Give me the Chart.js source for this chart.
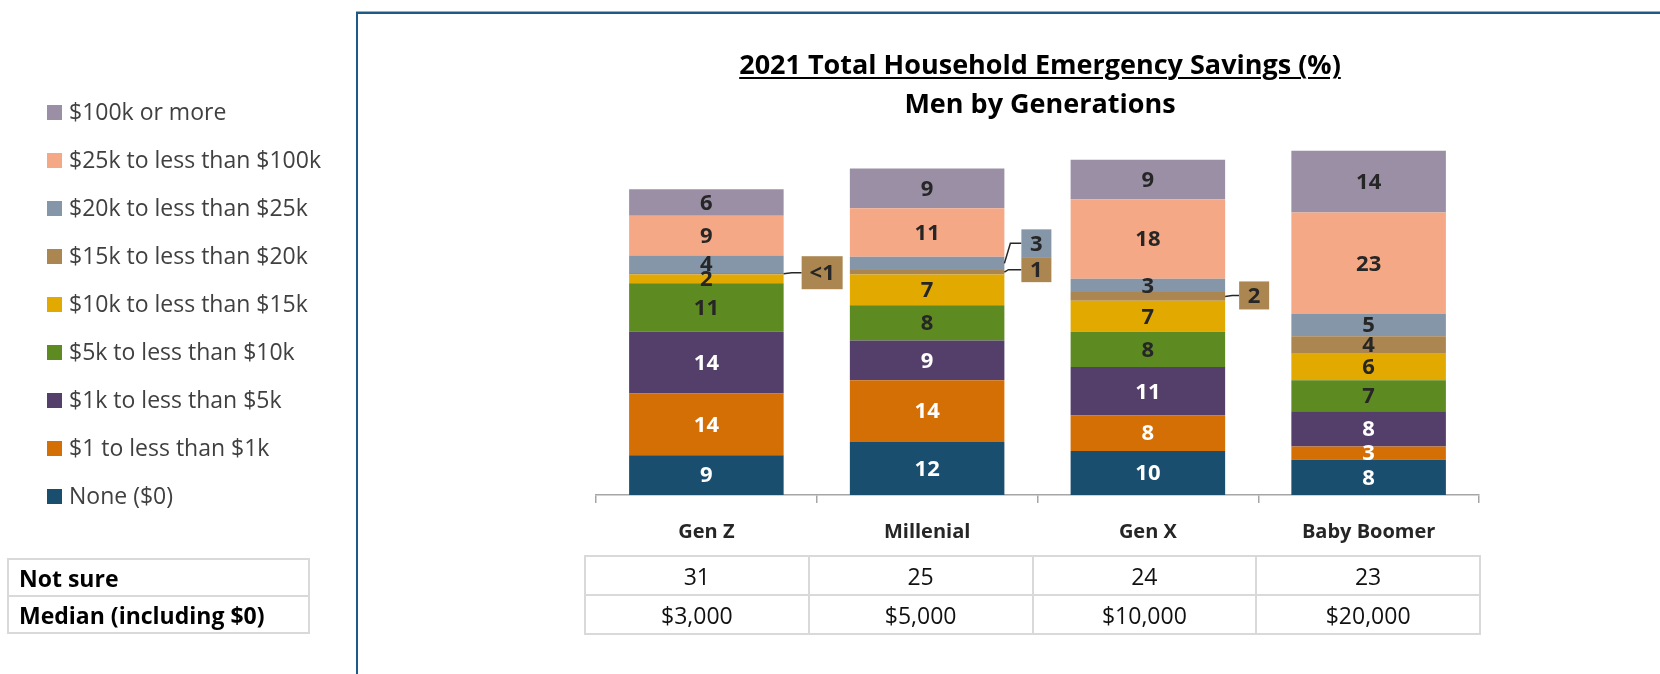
<!DOCTYPE html>
<html lang="en">
<head>
<meta charset="UTF-8">
<title>2021 Total Household Emergency Savings - Men by Generations</title>
<script src="https://cdn.jsdelivr.net/npm/chart.js"></script>
<style>
  body { margin: 0; width: 1660px; height: 674px; position: relative; overflow: hidden; background: #fff; font-family: "Open Sans", sans-serif; }
  #chart { position: absolute; left: 0; top: 0; }
  .frameTop { position: absolute; left: 356px; top: 11px; width: 1304px; height: 1px; background: #8fb1cc; }
  .frameTop2 { position: absolute; left: 356px; top: 12px; width: 1304px; height: 2px; background: #1d5a87; }
  .frameLeft { position: absolute; left: 356px; top: 12px; width: 2px; height: 662px; background: #1d5a87; }
  #title { position: absolute; left: 640px; width: 800px; top: 44px; text-align: center; font-weight: bold; font-size: 27px; line-height: 39px; color: #000; }
  #title u { text-decoration-thickness: 2px; text-underline-offset: 3px; }
  #legend { position: absolute; left: 47px; top: 100px; }
  .item { position: absolute; left: 0; height: 24px; white-space: nowrap; font-size: 23px; line-height: 24px; color: #404040; }
  .item span.sw { position: absolute; left: 0; top: 5px; width: 15px; height: 15px; }
  .item span.tx { position: absolute; left: 22px; top: -1px; }
  table { position: absolute; border-collapse: collapse; }
  td { border: 2px solid #d9d9d9; padding: 0; }
  #sideTable { left: 7px; top: 558px; width: 303px; }
  #sideTable td { height: 35px; font-weight: bold; font-size: 23px; color: #000; padding-left: 10px; }
  #valTable { left: 584px; top: 555px; width: 897px; table-layout: fixed; }
  #valTable td { height: 37px; font-size: 23px; color: #111; text-align: center; }
</style>
</head>
<body>
<canvas id="chart" width="1660" height="674"></canvas>
<div class="frameTop"></div><div class="frameTop2"></div><div class="frameLeft"></div>
<div id="title"><u>2021 Total Household Emergency Savings (%)</u><br>Men by Generations</div>
<div id="legend"></div>
<table id="sideTable"><tr><td>Not sure</td></tr><tr><td>Median (including $0)</td></tr></table>
<table id="valTable"><tr id="rowNotSure"></tr><tr id="rowMedian"></tr></table>
<script>
// categories
const generations = ["Gen Z", "Millenial", "Gen X", "Baby Boomer"];

// series, bottom to top
const seriesNames = [
  "None ($0)",
  "$1 to less than $1k",
  "$1k to less than $5k",
  "$5k to less than $10k",
  "$10k to less than $15k",
  "$15k to less than $20k",
  "$20k to less than $25k",
  "$25k to less than $100k",
  "$100k or more"
];
const noneVals    = [9, 12, 10, 8];
const under1kVals = [14, 14, 8, 3];
const k1to5Vals   = [14, 9, 11, 8];
const k5to10Vals  = [11, 8, 8, 7];
const k10to15Vals = [2, 7, 7, 6];
const k15to20Vals = [0.3, 1, 2, 4];   // Gen Z shown as "<1"
const k20to25Vals = [4, 3, 3, 5];
const k25to100Vals = [9, 11, 18, 23];
const k100plusVals = [6, 9, 9, 14];

// table rows under the chart
const notSureVals = [31, 25, 24, 23];
const medianVals = ["$3,000", "$5,000", "$10,000", "$20,000"];

const seriesValues = [noneVals, under1kVals, k1to5Vals, k5to10Vals, k10to15Vals,
                      k15to20Vals, k20to25Vals, k25to100Vals, k100plusVals];
const colors = ["#1a4e6e", "#d46f06", "#543e6a", "#5e8a22", "#e2aa00",
                "#ab8650", "#8496a7", "#f4a886", "#9b8fa5"];
const labelColors = ["#fff", "#fff", "#fff", "#262626", "#262626",
                     "#262626", "#262626", "#262626", "#262626"];

// small segments labelled with a box beside the bar
const callouts = [
  { series: 5, cat: 0, gap: 18, bend: 8, dy: -1, w: 41, h: 33 },
  { series: 6, cat: 1, gap: 17, bend: 6, dy: -20, w: 30, h: 28 },
  { series: 5, cat: 1, gap: 17, bend: 4, dy: -2.5, w: 30, h: 25 },
  { series: 5, cat: 2, gap: 14, bend: 7, dy: -1, w: 30, h: 28 }
];

// legend (top to bottom = reverse stacking order)
const legend = document.getElementById("legend");
for (let k = seriesNames.length - 1, n = 0; k >= 0; k--, n++) {
  const div = document.createElement("div");
  div.className = "item";
  div.style.top = (n * 48.05) + "px";
  div.innerHTML = '<span class="sw" style="background:' + colors[k] + '"></span><span class="tx"></span>';
  div.querySelector(".tx").textContent = seriesNames[k];
  legend.appendChild(div);
}

// value table
const rowNS = document.getElementById("rowNotSure");
const rowMed = document.getElementById("rowMedian");
notSureVals.forEach(v => { const td = document.createElement("td"); td.textContent = v; rowNS.appendChild(td); });
medianVals.forEach(v => { const td = document.createElement("td"); td.textContent = v; rowMed.appendChild(td); });

const segmentLabels = {
  id: "segmentLabels",
  afterDatasetsDraw(chart) {
    const ctx = chart.ctx;
    ctx.save();
    ctx.font = 'bold 22px "Open Sans"';
    ctx.textAlign = "center";
    ctx.textBaseline = "middle";
    chart.data.datasets.forEach((ds, i) => {
      const meta = chart.getDatasetMeta(i);
      meta.data.forEach((bar, j) => {
        const v = ds.data[j];
        const text = v < 1 ? "<1" : String(v);
        const cy = (bar.y + bar.base) / 2;
        const co = callouts.find(c => c.series === i && c.cat === j);
        if (co) {
          const right = bar.x + bar.width / 2;
          const bx = right + co.gap;
          const by = cy + co.dy;
          ctx.strokeStyle = "#262626";
          ctx.lineWidth = 1.5;
          ctx.beginPath();
          ctx.moveTo(right, cy);
          ctx.lineTo(right + co.bend, by);
          ctx.lineTo(bx, by);
          ctx.stroke();
          ctx.fillStyle = colors[i];
          ctx.fillRect(bx, by - co.h / 2, co.w, co.h);
          ctx.fillStyle = "#262626";
          ctx.fillText(text, bx + co.w / 2, by + 1);
        } else {
          ctx.fillStyle = labelColors[i];
          ctx.fillText(text, bar.x, cy + 1);
        }
      });
    });
    ctx.restore();
  }
};

new Chart(document.getElementById("chart"), {
  type: "bar",
  data: {
    labels: generations,
    datasets: seriesNames.map((name, i) => ({
      label: name,
      data: seriesValues[i],
      backgroundColor: colors[i],
      borderWidth: 0,
      categoryPercentage: 1,
      barPercentage: 0.7
    }))
  },
  options: {
    responsive: false,
    animation: false,
    layout: { padding: { left: 596, right: 181, top: 142, bottom: 119 } },
    plugins: { legend: { display: false }, tooltip: { enabled: false } },
    scales: {
      x: {
        stacked: true,
        afterFit(scale) { scale.height = 60; },
        grid: { display: true, drawOnChartArea: false, drawTicks: true, tickLength: 8, color: "#a6a6a6", lineWidth: 1.5, offset: true },
        border: { display: true, color: "#a6a6a6", width: 1.5 },
        ticks: { color: "#262626", padding: 17, font: { family: "Open Sans", size: 20, weight: "bold" } }
      },
      y: { stacked: true, display: false, min: 0, max: 80 }
    }
  },
  plugins: [segmentLabels]
});
</script>
</body>
</html>
